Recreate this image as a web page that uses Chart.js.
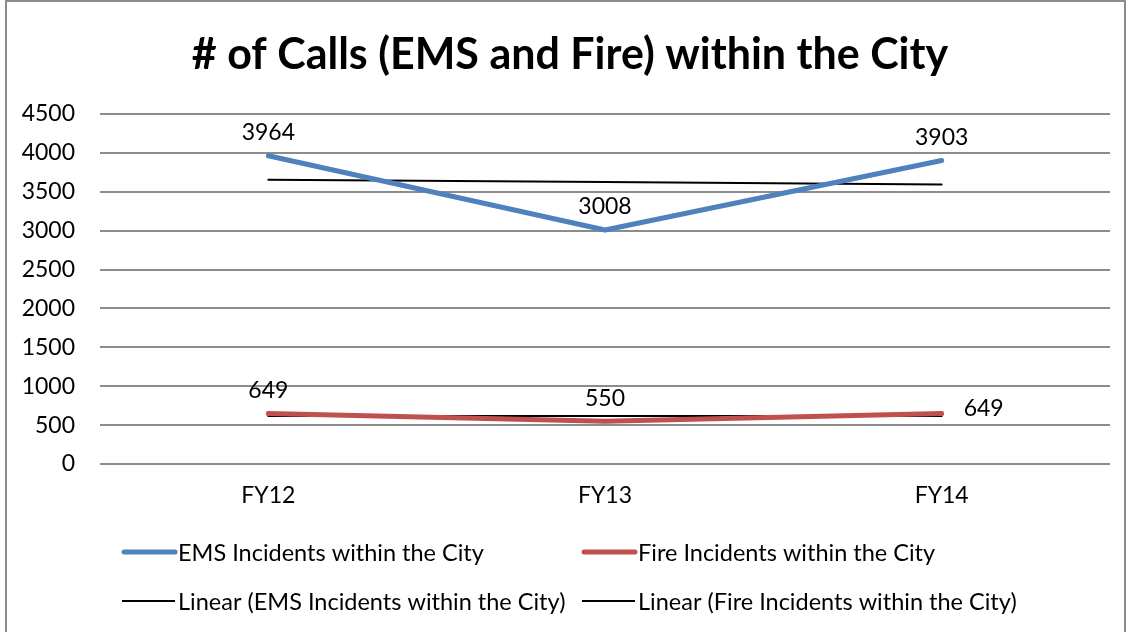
<!DOCTYPE html>
<html>
<head>
  <meta charset="utf-8">
  <title># of Calls (EMS and Fire) within the City</title>
  <script src="https://cdn.jsdelivr.net/npm/chart.js"></script>
  <style>
    body { margin: 0; background: #fff; }
    #wrap { position: relative; width: 1130px; height: 632px; }
    #frame { position: absolute; left: 5px; top: 0px; width: 1121px; height: 640px; border: 2px solid #8c8c8c; box-sizing: border-box; pointer-events: none; }
  </style>
</head>
<body>
  <div id="wrap">
    <canvas id="callsChart" width="1130" height="632"></canvas>
    <div id="frame"></div>
  </div>

  <script>
    var labels = ['FY12', 'FY13', 'FY14'];
    var emsCalls = [3964, 3008, 3903];
    var fireCalls = [649, 550, 649];
    var emsTrend = [3656, 3625, 3595];
    var fireTrend = [616, 616, 616];
    var yTicks = [0, 500, 1000, 1500, 2000, 2500, 3000, 3500, 4000, 4500];

    var FONT = 'Lato, "Noto Sans", sans-serif';

    // title, data labels and the two-row legend are drawn by hand
    var extras = {
      id: 'extras',
      afterDatasetsDraw: function(chart) {
        var c = chart.ctx;
        c.save();
        c.fillStyle = '#000';
        c.font = 'bold 43px ' + FONT;
        c.textAlign = 'center';
        c.textBaseline = 'middle';
        c.fillText('# of Calls (EMS and Fire) within the City', 570, 55);

        c.font = '23px ' + FONT;
        [0, 1].forEach(function(di) {
          var ds = chart.data.datasets[di];
          var meta = chart.getDatasetMeta(di);
          meta.data.forEach(function(pt, i) {
            var place = ds.labelPlace ? ds.labelPlace[i] : 'above';
            if (place === 'right') {
              c.textAlign = 'left';
              c.fillText(ds.data[i], pt.x + 22, pt.y - 5);
            } else {
              c.textAlign = 'center';
              c.fillText(ds.data[i], pt.x, pt.y - 23);
            }
          });
        });

        // legend
        var cols = [122, 582];
        var rows = [552, 601];
        c.textAlign = 'left';
        c.font = '23.5px ' + FONT;
        chart.data.datasets.forEach(function(ds, i) {
          var x = cols[i % 2], y = rows[Math.floor(i / 2)];
          c.strokeStyle = ds.borderColor;
          c.lineWidth = ds.borderWidth;
          c.lineCap = ds.borderWidth > 3 ? 'round' : 'butt';
          c.beginPath();
          c.moveTo(x + (ds.borderWidth > 3 ? 2 : 0), y);
          c.lineTo(x + 53, y);
          c.stroke();
          c.fillText(ds.label, x + 56, y + 1);
        });
        c.restore();
      }
    };

    var ctx = document.getElementById('callsChart').getContext('2d');
    new Chart(ctx, {
      type: 'line',
      data: {
        labels: labels,
        datasets: [
          { label: 'EMS Incidents within the City', data: emsCalls, borderColor: '#4F81BD', borderWidth: 5, order: 1 },
          { label: 'Fire Incidents within the City', data: fireCalls, borderColor: '#C0504D', borderWidth: 5, order: 1, labelPlace: ['above', 'above', 'right'] },
          { label: 'Linear (EMS Incidents within the City)', data: emsTrend, borderColor: '#000', borderWidth: 2, order: 2 },
          { label: 'Linear (Fire Incidents within the City)', data: fireTrend, borderColor: '#000', borderWidth: 2, order: 2 }
        ]
      },
      options: {
        responsive: false,
        animation: false,
        elements: {
          point: { radius: 0, hoverRadius: 0 },
          line: { tension: 0, borderCapStyle: 'round', borderJoinStyle: 'round' }
        },
        layout: { padding: { left: 0, right: 20, top: 114, bottom: 118 } },
        plugins: {
          legend: { display: false },
          title: { display: false },
          tooltip: { enabled: false }
        },
        scales: {
          x: {
            offset: true,
            grid: { display: false, drawTicks: false },
            border: { display: false },
            ticks: { color: '#000', font: { family: FONT, size: 23 }, padding: 18 },
            afterFit: function(s) { s.height = 50; }
          },
          y: {
            min: 0,
            max: 4500,
            afterBuildTicks: function(s) { s.ticks = yTicks.map(function(v) { return { value: v }; }); },
            grid: { color: '#8c8c8c', lineWidth: 2, drawTicks: false },
            border: { display: false },
            ticks: { color: '#000', font: { family: FONT, size: 23 }, padding: 25, callback: function(v) { return String(v); } },
            afterFit: function(s) { s.width = 100; }
          }
        }
      },
      plugins: [extras]
    });
  </script>
</body>
</html>
